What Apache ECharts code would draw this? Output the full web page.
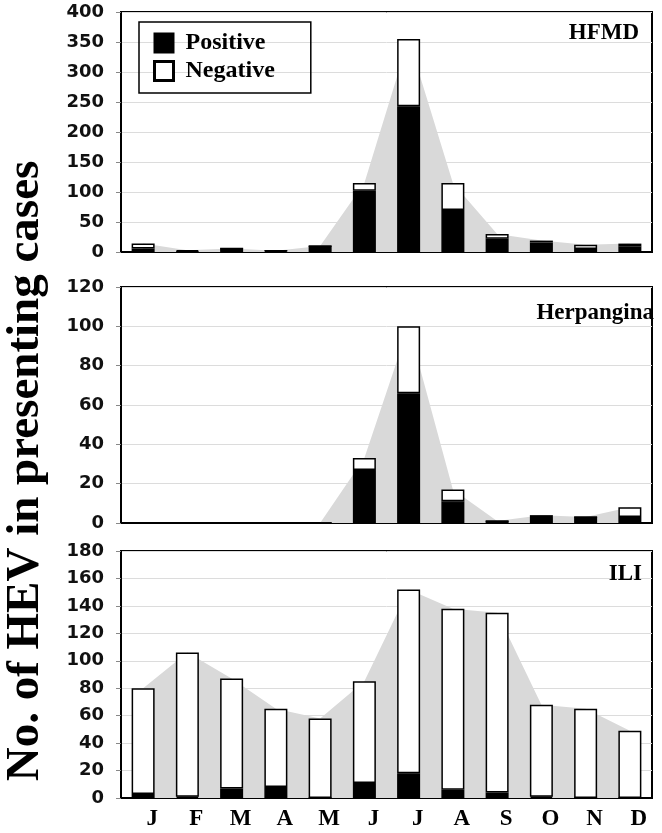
<!DOCTYPE html>
<html>
<head>
<meta charset="utf-8">
<script src="https://cdn.jsdelivr.net/npm/echarts@6/dist/echarts.min.js"></script>
<style>html,body{margin:0;padding:0;background:#fff}#c{width:662px;height:833px}</style>
</head>
<body>
<div id="c"></div>
<script>
const months = ['J','F','M','A','M','J','J','A','S','O','N','D'];
const hfmdPositive = [6,1,6,2,10,102,243,70,22,16,5,9];
const hfmdNegative = [8,2,0,0,0,13,112,45,8,3,7,5];
const herpPositive = [0,0,0,0,0,27,66,11,1,3,3,3];
const herpNegative = [0,0,0,0,0,6,34,6,0,1,0,5];
const iliPositive = [3,1,7,8,0,11,18,6,4,1,0,0];
const iliNegative = [77,105,80,57,58,74,134,132,131,67,65,49];
const panelNames = ['HFMD','Herpangina','ILI'];
const yMax = [400,120,180];
const yStep = [50,20,20];
const yTitle = 'No. of HEV in presenting cases';

const panels = [
  {pos: hfmdPositive, neg: hfmdNegative},
  {pos: herpPositive, neg: herpNegative},
  {pos: iliPositive, neg: iliNegative}
];
const grids = [
  {left:121, right:10, top:12, height:240},
  {left:121, right:10, top:287, height:236},
  {left:121, right:10, top:551, height:247}
];
const serif = '"Liberation Serif","Times New Roman",serif';
const sans = '"DejaVu Sans",Verdana,sans-serif';

const chart = echarts.init(document.getElementById('c'), null, {renderer:'canvas'});
const series = [];
panels.forEach((p,i)=>{
  const total = p.pos.map((v,k)=>v+p.neg[k]);
  series.push({
    type:'line', xAxisIndex:i, yAxisIndex:i, data: total, symbol:'none',
    lineStyle:{width:0, color:'#d9d9d9'}, areaStyle:{color:'#d9d9d9', opacity:1},
    z:1, silent:true
  });
  series.push({
    name:'Positive', type:'bar', stack:'s'+i, xAxisIndex:i, yAxisIndex:i, data:p.pos,
    barWidth:23, itemStyle:{color:'#000', borderColor:'#000', borderWidth:1.5}, z:3
  });
  series.push({
    name:'Negative', type:'bar', stack:'s'+i, xAxisIndex:i, yAxisIndex:i, data:p.neg,
    barWidth:23, itemStyle:{color:'#fff', borderColor:'#000', borderWidth:1.5}, z:3
  });
});

const titlePos = [
  {x:639, y:33},
  {x:654, y:313},
  {x:642, y:574}
];

chart.setOption({
  animation:false,
  grid: grids.map(g=>Object.assign({show:true, borderColor:'#000', borderWidth:2, backgroundColor:'transparent'}, g)),
  xAxis: grids.map((g,i)=>({
    type:'category', gridIndex:i, data: months,
    axisTick:{show:false},
    axisLine:{lineStyle:{color:'#000', width:2}},
    axisLabel:{show: i===2, fontFamily:serif, fontWeight:'bold', fontSize:23, color:'#000', margin:10, padding:[0,0,0,18]},
    splitLine:{show:false}
  })),
  yAxis: grids.map((g,i)=>({
    type:'value', gridIndex:i, min:0, max:yMax[i], interval:yStep[i],
    axisLine:{show:true, lineStyle:{color:'#000', width:2}},
    axisTick:{show:true, length:5, lineStyle:{color:'#888'}},
    axisLabel:{fontFamily:sans, fontWeight:'bold', fontSize:18, color:'#111', margin:17},
    splitLine:{show:true, lineStyle:{color:'#dcdcdc', width:1}}
  })),
  legend:{
    data:[
      {name:'Positive', icon:'rect', itemStyle:{color:'#000', borderColor:'#000', borderWidth:2}},
      {name:'Negative', icon:'rect', itemStyle:{color:'#fff', borderColor:'#000', borderWidth:3}}
    ],
    orient:'vertical', left:139, top:22,
    itemWidth:19, itemHeight:19, itemGap:4,
    padding:[9,36,10,14],
    borderColor:'#000', borderWidth:1.5,
    textStyle:{fontFamily:serif, fontWeight:'bold', fontSize:24, color:'#000', lineHeight:19, padding:[0,0,0,7]},
    selectedMode:false
  },
  graphic: [
    {type:'text', x:26, y:471, rotation:Math.PI/2,
      style:{text:yTitle, font:'bold 47px ' + serif, fill:'#000', align:'center', verticalAlign:'middle'}},
  ].concat(panelNames.map((n,i)=>({
    type:'text', x:titlePos[i].x, y:titlePos[i].y, z:10,
    style:{text:n, font:'bold 23px ' + serif, fill:'#000', align:'right', verticalAlign:'middle'}
  }))),
  series: series
});
</script>
</body>
</html>
